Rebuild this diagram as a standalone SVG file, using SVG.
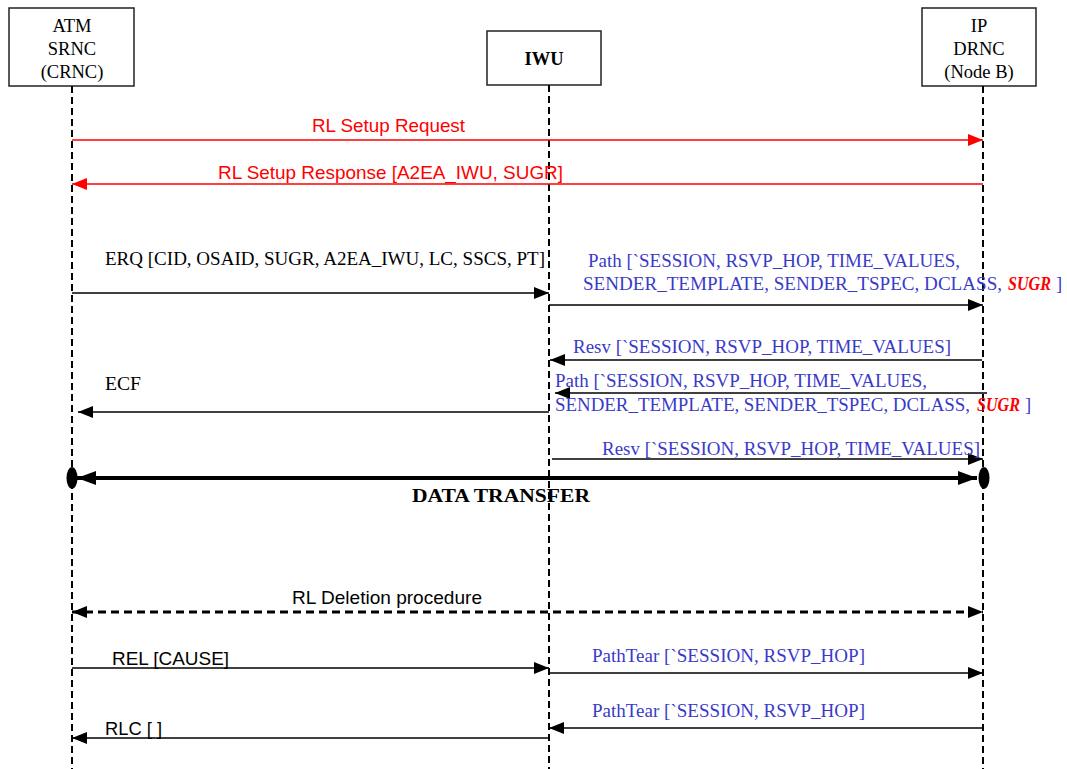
<svg xmlns="http://www.w3.org/2000/svg" width="1067" height="769" viewBox="0 0 1067 769">
<style>
.box{fill:#fff;stroke:#222;stroke-width:1.5}
.life{stroke:#000;stroke-width:2;stroke-dasharray:7 4;fill:none}
.msg{stroke:#000;stroke-width:1.5;fill:none}
.red{stroke:#f00;stroke-width:1.5;fill:none}
.serif{font-family:"Liberation Serif","Times New Roman",serif;font-size:18.5px}
.sans{font-family:"Liberation Sans",Arial,sans-serif;font-size:19px}
.blue{fill:#3a3ac8}
.rt{fill:#f00}
.c{text-anchor:middle}
</style>
<defs>
<marker id="ah" markerUnits="userSpaceOnUse" markerWidth="16" markerHeight="13" refX="15" refY="6" orient="auto-start-reverse"><path d="M0,0 L15,6 L0,12 z" fill="#000"/></marker>
<marker id="ahr" markerUnits="userSpaceOnUse" markerWidth="16" markerHeight="13" refX="15" refY="6" orient="auto-start-reverse"><path d="M0,0 L15,6 L0,12 z" fill="#f00"/></marker>
<marker id="ahb" markerUnits="userSpaceOnUse" markerWidth="20" markerHeight="16" refX="19" refY="7" orient="auto-start-reverse"><path d="M0,0 L19,7 L0,14 z" fill="#000"/></marker>
</defs>

<g id="node-atm">
<rect class="box" x="9" y="8" width="125" height="78"/>
<text class="serif c" x="72" y="32">ATM</text>
<text class="serif c" x="72" y="55">SRNC</text>
<text class="serif c" x="72" y="78">(CRNC)</text>
</g>
<g id="node-iwu">
<rect class="box" x="487" y="31" width="114" height="54"/>
<text class="serif c" x="544" y="65" font-weight="bold">IWU</text>
</g>
<g id="node-ip">
<rect class="box" x="922" y="8" width="114" height="78"/>
<text class="serif c" x="979" y="32">IP</text>
<text class="serif c" x="979" y="55">DRNC</text>
<text class="serif c" x="979" y="78">(Node B)</text>
</g>

<g id="lifelines">
<line class="life" x1="72" y1="86" x2="72" y2="769"/>
<line class="life" x1="549" y1="85" x2="549" y2="769"/>
<line class="life" x1="983" y1="86" x2="983" y2="769"/>
</g>

<g id="connectors">
<line class="red" x1="72" y1="140" x2="983" y2="140" marker-end="url(#ahr)"/>
<line class="red" x1="983" y1="184" x2="72" y2="184" marker-end="url(#ahr)"/>
<line class="msg" x1="72" y1="293" x2="549" y2="293" marker-end="url(#ah)"/>
<line class="msg" x1="549" y1="305" x2="983" y2="305" marker-end="url(#ah)"/>
<line class="msg" x1="982" y1="360" x2="550" y2="360" marker-end="url(#ah)"/>
<line class="msg" x1="987" y1="393" x2="555" y2="393" marker-end="url(#ah)"/>
<line class="msg" x1="549" y1="412" x2="78" y2="412" marker-end="url(#ah)"/>
<line class="msg" x1="552" y1="459" x2="983" y2="459" marker-end="url(#ah)"/>
<line x1="77" y1="478" x2="977" y2="478" stroke="#000" stroke-width="4" marker-start="url(#ahb)" marker-end="url(#ahb)"/>
<ellipse cx="72" cy="478" rx="5.5" ry="11" fill="#000"/>
<ellipse cx="984" cy="478" rx="5.5" ry="11" fill="#000"/>
<line x1="72" y1="612" x2="983" y2="612" stroke="#000" stroke-width="3" stroke-dasharray="8 5" marker-start="url(#ah)" marker-end="url(#ah)"/>
<line class="msg" x1="72" y1="668" x2="549" y2="668" marker-end="url(#ah)"/>
<line class="msg" x1="549" y1="673" x2="983" y2="673" marker-end="url(#ah)"/>
<line class="msg" x1="983" y1="728" x2="549" y2="728" marker-end="url(#ah)"/>
<line class="msg" x1="549" y1="738" x2="72" y2="738" marker-end="url(#ah)"/>
</g>

<g id="labels">
<text class="sans rt" x="312" y="132" textLength="153" lengthAdjust="spacingAndGlyphs">RL Setup Request</text>
<text class="sans rt" x="218" y="179" textLength="345" lengthAdjust="spacingAndGlyphs">RL Setup Response [A2EA_IWU, SUGR]</text>
<text class="serif" x="105" y="265" textLength="440" lengthAdjust="spacingAndGlyphs">ERQ [CID, OSAID, SUGR, A2EA_IWU, LC, SSCS, PT]</text>
<text class="serif blue" x="588" y="267" textLength="372" lengthAdjust="spacingAndGlyphs">Path [`SESSION, RSVP_HOP, TIME_VALUES,</text>
<text class="serif blue" x="583" y="290" textLength="419" lengthAdjust="spacingAndGlyphs">SENDER_TEMPLATE, SENDER_TSPEC,  DCLASS,</text>
<text class="serif rt" x="1008" y="290" font-weight="bold" font-style="italic" textLength="43" lengthAdjust="spacingAndGlyphs">SUGR</text>
<text class="serif blue" x="1056" y="290">]</text>
<text class="serif blue" x="573" y="353" textLength="378" lengthAdjust="spacingAndGlyphs">Resv [`SESSION, RSVP_HOP, TIME_VALUES]</text>
<text class="serif blue" x="555" y="387" textLength="372" lengthAdjust="spacingAndGlyphs">Path [`SESSION, RSVP_HOP, TIME_VALUES,</text>
<text class="serif blue" x="555" y="411" textLength="415" lengthAdjust="spacingAndGlyphs">SENDER_TEMPLATE, SENDER_TSPEC, DCLASS,</text>
<text class="serif rt" x="977" y="411" font-weight="bold" font-style="italic" textLength="43" lengthAdjust="spacingAndGlyphs">SUGR</text>
<text class="serif blue" x="1025" y="411">]</text>
<text class="serif" x="105" y="390" textLength="36" lengthAdjust="spacingAndGlyphs">ECF</text>
<text class="serif blue" x="602" y="455" textLength="378" lengthAdjust="spacingAndGlyphs">Resv [`SESSION, RSVP_HOP, TIME_VALUES]</text>
<text class="serif" x="412" y="502" font-weight="bold" textLength="178" lengthAdjust="spacingAndGlyphs">DATA TRANSFER</text>
<text class="sans" x="292" y="604" textLength="190" lengthAdjust="spacingAndGlyphs">RL Deletion procedure</text>
<text class="sans" x="112" y="665" textLength="117" lengthAdjust="spacingAndGlyphs">REL [CAUSE]</text>
<text class="serif blue" x="592" y="662" textLength="273" lengthAdjust="spacingAndGlyphs">PathTear [`SESSION, RSVP_HOP]</text>
<text class="serif blue" x="592" y="717" textLength="273" lengthAdjust="spacingAndGlyphs">PathTear [`SESSION, RSVP_HOP]</text>
<text class="sans" x="105" y="735" textLength="57" lengthAdjust="spacingAndGlyphs">RLC [ ]</text>
</g>
</svg>
